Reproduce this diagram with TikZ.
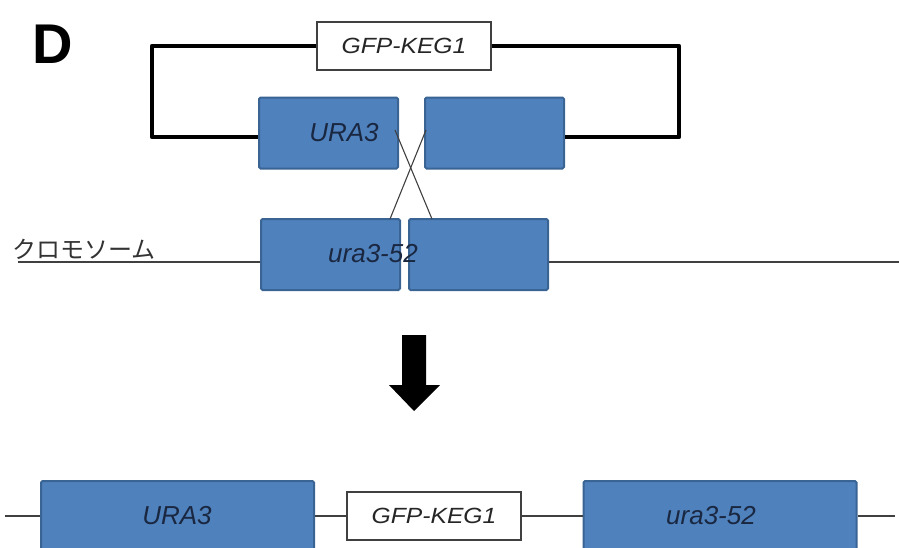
\documentclass[tikz,border=0pt]{standalone}
\usepackage{fontspec}
\setmainfont{Liberation Sans}
\newfontfamily\cjk{Noto Sans CJK JP}
\definecolor{geneblue}{HTML}{4F81BD}
\definecolor{genebd}{HTML}{3A6494}
\definecolor{genetext}{HTML}{1A2740}
\definecolor{thinline}{HTML}{404040}
\begin{document}
\begin{tikzpicture}[x=1pt,y=-1pt,
  gene/.style={draw=genebd, fill=geneblue, line width=2pt, rounded corners=1.5pt,
    inner sep=0pt, minimum width=#1, minimum height=71pt},
  gene/.default=139pt,
  gfp/.style={draw=black!75, fill=white, line width=1.2pt, inner sep=0pt,
    minimum width=174pt, minimum height=48pt, font=\fontsize{22}{25}\selectfont\itshape, text=black!85},
  genelabel/.style={font=\fontsize{26}{30}\selectfont\itshape, text=genetext, inner sep=0pt},
  thick link/.style={line width=4.5pt, line join=round, black},
  thin link/.style={line width=1.5pt, thinline},
  cross/.style={line width=1.1pt, thinline}]
\useasboundingbox (0,0) rectangle (899,547);
\clip (0,0) rectangle (899,547);
% label
\node[font=\fontsize{56}{62}\selectfont\bfseries, inner sep=0pt] (lab) at (53,44) {D};
% top plasmid
\node[gfp] (g1) at (404,46) {\scalebox{1.12}[1]{GFP-KEG1}};
\node[gene] (u1) at (328.5,133) {};
\node[gene] (u2) at (494.5,133) {};
\node[genelabel] (u1t) at (344,133) {URA3};
\coordinate (tl) at (152,46);
\coordinate (bl) at (152,137);
\coordinate (tr) at (679,46);
\coordinate (br) at (679,137);
\draw[thick link] (g1.west) -- (tl) -- (bl) -- (u1.west |- bl);
\draw[thick link] (g1.east) -- (tr) -- (br) -- (u2.east |- br);
% chromosome
\node[gene] (c1) at (330.5,254.5) {};
\node[gene] (c2) at (478.5,254.5) {};
\node[genelabel] (c1t) at (373,254) {ura3-52};
\node[font=\fontsize{24}{28}\selectfont\cjk, text=black!80, inner sep=0pt, anchor=south west] (chr) at (12,260) {クロモソーム};
\coordinate (chl) at (18,262);
\coordinate (chr2) at (899,262);
\draw[thin link] (chl) -- (c1.west |- chl);
\draw[thin link] (c2.east |- chl) -- (chr2);
% crossover
\coordinate (x1a) at (395,130);
\coordinate (x1b) at (432,219);
\coordinate (x2a) at (426,130);
\coordinate (x2b) at (390,219);
\draw[cross] (x1a) -- (x1b);
\draw[cross] (x2a) -- (x2b);
% arrow
\fill[black] (402,335) -- (426,335) -- (426,385) -- (440,385) -- (414,411) -- (389,385) -- (402,385) -- cycle;
% result
\node[gene=273pt, minimum height=120pt] (r1) at (177.5,541) {};
\node[gene=273pt, minimum height=120pt] (r3) at (720,541) {};
\node[genelabel] (r1t) at (177,516) {URA3};
\node[genelabel] (r3t) at (711,516) {ura3-52};
\node[gfp] (r2) at (434,516) {\scalebox{1.12}[1]{GFP-KEG1}};
\coordinate (ll) at (5,516);
\coordinate (lr) at (895,516);
\draw[thin link] (ll) -- (r1.west |- ll);
\draw[thin link] (r1.east |- ll) -- (r2.west);
\draw[thin link] (r2.east) -- (r3.west |- ll);
\draw[thin link] (r3.east |- ll) -- (lr);
\end{tikzpicture}
\end{document}
